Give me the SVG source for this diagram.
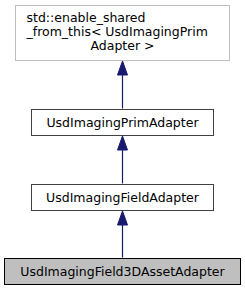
<svg xmlns="http://www.w3.org/2000/svg" width="245" height="291" viewBox="0 0 245 291">
<defs>
<style>
text{font-family:"DejaVu Sans",sans-serif;font-size:12.5px;fill:#000}
.c{text-anchor:middle}
.box{fill:#fff;stroke:#404040;stroke-width:1}
.ext{fill:#fff;stroke:#bfbfbf;stroke-width:1}
.cur{fill:#bfbfbf;stroke:#000;stroke-width:1}
.edge{stroke:#191970;stroke-width:1.2;fill:none}
.head{fill:#191970;stroke:#191970}
</style>
</defs>
<rect width="245" height="291" fill="#fff"/>
<g id="connectors">
<line class="edge" x1="122.5" y1="108.5" x2="122.5" y2="74"/>
<polygon class="head" points="117.5,75 122.5,61 127.5,75"/>
<line class="edge" x1="122.5" y1="183.5" x2="122.5" y2="149"/>
<polygon class="head" points="117.5,150 122.5,136 127.5,150"/>
<line class="edge" x1="122.5" y1="257.5" x2="122.5" y2="224"/>
<polygon class="head" points="117.5,225 122.5,211 127.5,225"/>
</g>
<g id="node_enable_shared">
<rect class="ext" x="15.5" y="5.5" width="214" height="55"/>
<text x="26.5" y="21.5">std::enable_shared</text>
<text x="26.5" y="35.5">_from_this&lt; UsdImagingPrim</text>
<text class="c" x="122.5" y="49.5">Adapter &gt;</text>
</g>
<g id="node_prim_adapter">
<rect class="box" x="31.5" y="109.5" width="182" height="26"/>
<text class="c" x="122.5" y="127">UsdImagingPrimAdapter</text>
</g>
<g id="node_field_adapter">
<rect class="box" x="31.5" y="184.5" width="182" height="26"/>
<text class="c" x="122.5" y="202">UsdImagingFieldAdapter</text>
</g>
<g id="node_field3d">
<rect class="cur" x="4.5" y="258.5" width="236" height="26"/>
<text class="c" x="122.5" y="276">UsdImagingField3DAssetAdapter</text>
</g>
</svg>
